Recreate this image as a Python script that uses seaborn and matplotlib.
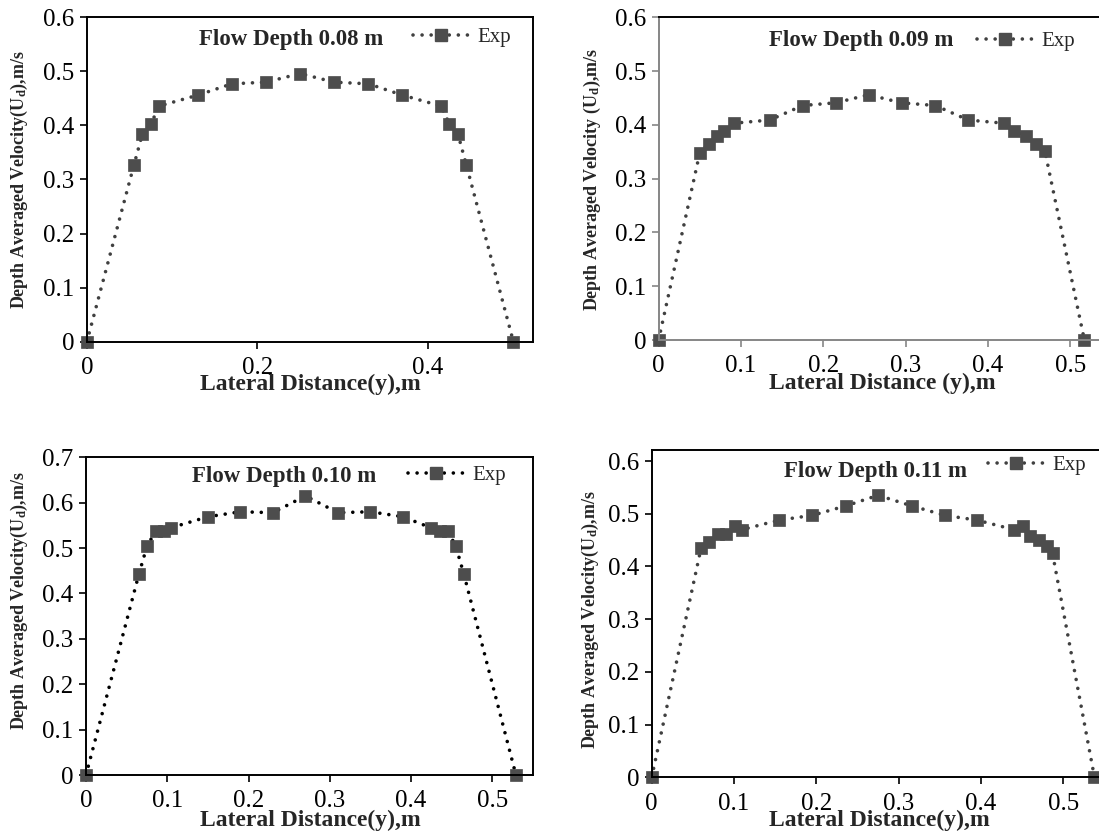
import numpy as np
import pandas as pd
import matplotlib
matplotlib.use("Agg")
import matplotlib.pyplot as plt
import seaborn as sns
from matplotlib.ticker import MultipleLocator, FuncFormatter
from matplotlib.lines import Line2D

# ---------------- data ----------------
y_008 = [0, 0.055, 0.065, 0.075, 0.085, 0.13, 0.17, 0.21, 0.25, 0.29, 0.33, 0.37,
         0.415, 0.425, 0.435, 0.445, 0.50]
u_008 = [0, 0.326, 0.384, 0.403, 0.436, 0.456, 0.477, 0.480, 0.496, 0.480, 0.477,
         0.456, 0.436, 0.403, 0.384, 0.326, 0]

y_009 = [0, 0.050, 0.061, 0.071, 0.080, 0.091, 0.135, 0.175, 0.215, 0.255, 0.295,
         0.336, 0.376, 0.420, 0.431, 0.446, 0.458, 0.469, 0.517]
u_009 = [0, 0.348, 0.365, 0.379, 0.389, 0.403, 0.409, 0.436, 0.441, 0.456, 0.441,
         0.436, 0.409, 0.403, 0.389, 0.379, 0.365, 0.352, 0]

y_010 = [0, 0.065, 0.075, 0.086, 0.096, 0.105, 0.15, 0.19, 0.23, 0.27, 0.31, 0.35,
         0.39, 0.424, 0.435, 0.445, 0.455, 0.465, 0.529]
u_010 = [0, 0.442, 0.504, 0.538, 0.538, 0.545, 0.569, 0.580, 0.578, 0.615, 0.578,
         0.580, 0.569, 0.545, 0.538, 0.538, 0.504, 0.442, 0]

y_011 = [0, 0.060, 0.070, 0.080, 0.090, 0.101, 0.110, 0.155, 0.195, 0.236, 0.275,
         0.316, 0.356, 0.395, 0.440, 0.451, 0.460, 0.470, 0.480, 0.487, 0.538]
u_011 = [0, 0.435, 0.446, 0.461, 0.462, 0.476, 0.470, 0.488, 0.497, 0.515, 0.535,
         0.515, 0.497, 0.488, 0.470, 0.476, 0.458, 0.451, 0.438, 0.425, 0]

titles = ["Flow Depth 0.08 m", "Flow Depth 0.09 m", "Flow Depth 0.10 m", "Flow Depth 0.11 m"]
ylabels = [r"Depth Averaged Velocity(U$_\mathbf{d}$),m/s",
           r"Depth Averaged Velocity (U$_\mathbf{d}$),m/s",
           r"Depth Averaged Velocity(U$_\mathbf{d}$),m/s",
           r"Depth Averaged Velocity(U$_\mathbf{d}$),m/s"]
xlabels = ["Lateral Distance(y),m", "Lateral Distance (y),m",
           "Lateral Distance(y),m", "Lateral Distance(y),m"]
legend_label = "Exp"

# ---------------- style ----------------
sns.set_theme(style="white")
plt.rcParams["font.family"] = ["Liberation Serif", "DejaVu Serif"]
plt.rcParams["mathtext.fontset"] = "custom"
plt.rcParams["mathtext.rm"] = "Liberation Serif"
plt.rcParams["mathtext.bf"] = "Liberation Serif:bold"
plt.rcParams["mathtext.it"] = "Liberation Serif:italic"

W, H = 1099, 838
fig = plt.figure(figsize=(W / 100, H / 100), dpi=100)
fig.patch.set_facecolor("white")

# panel layout in pixels: left, right, top, bottom
layout = [
    dict(l=86.9, r=533.0, t=17.3, b=341.7, xmax=0.523, ymax=0.6, xstep=0.2,
         title=(291.6, 39.3), leg=(413, 37.5), ylab=(19.3, 179.5), xlab=(310, 384),
         line="#404040", spine_lr="black", spine_b="black"),
    dict(l=658.6, r=658.6 + 0.56 * 823.5, t=17.3, b=340.0, xmax=0.56, ymax=0.6, xstep=0.1,
         title=(860.8, 40.7), leg=(977, 41.7), ylab=(592, 179), xlab=(882.7, 383),
         line="#404040", spine_lr="#868686", spine_b="#868686"),
    dict(l=86.0, r=533.0, t=457.3, b=775.0, xmax=0.55, ymax=0.7, xstep=0.1,
         title=(284.6, 476), leg=(408, 475), ylab=(19, 601), xlab=(310, 820),
         line="#000000", spine_lr="black", spine_b="black"),
    dict(l=651.7, r=651.7 + 0.56 * 823.0, t=450.0, b=777.3, xmax=0.56, ymax=0.621, xstep=0.1,
         title=(875.7, 471.7), leg=(988, 465), ylab=(590, 620), xlab=(879, 820),
         line="#404040", spine_lr="black", spine_b="black"),
]

series = [(y_008, u_008), (y_009, u_009), (y_010, u_010), (y_011, u_011)]
marker_color = "#4d4d4d"
lw = 2.6
dot_style = (0, (0.01, 2.5))


def fmt(v, pos):
    if abs(v) < 1e-9:
        return "0"
    return f"{v:.1f}"


for i, (lay, (xs, us)) in enumerate(zip(layout, series)):
    l, r, t, b = lay["l"], lay["r"], lay["t"], lay["b"]
    ax = fig.add_axes([l / W, 1 - b / H, (r - l) / W, (b - t) / H])
    ax.set_facecolor("white")
    df = pd.DataFrame({"y": xs, "U": us})
    sns.lineplot(data=df, x="y", y="U", ax=ax, estimator=None, sort=False,
                 color=lay["line"], linewidth=lw, linestyle=dot_style,
                 dash_capstyle="round", marker="s", markersize=8.6,
                 markerfacecolor=marker_color, markeredgecolor=marker_color,
                 markeredgewidth=0.5, clip_on=False, label=legend_label, legend=False)
    ax.set_xlim(0, lay["xmax"])
    ax.set_ylim(0, lay["ymax"])
    ax.xaxis.set_major_locator(MultipleLocator(lay["xstep"]))
    ax.yaxis.set_major_locator(MultipleLocator(0.1))
    ax.xaxis.set_major_formatter(FuncFormatter(fmt))
    ax.yaxis.set_major_formatter(FuncFormatter(fmt))
    ax.tick_params(axis="both", which="major", direction="out", length=5, width=1.2,
                   labelsize=18, colors="black", bottom=True, left=True)
    ax.tick_params(axis="x", pad=6, color=lay["spine_b"])
    ax.tick_params(axis="y", pad=4, color=lay["spine_lr"])
    for side in ["top", "right"]:
        ax.spines[side].set_color("black")
        ax.spines[side].set_linewidth(1.4)
    ax.spines["left"].set_color(lay["spine_lr"])
    ax.spines["bottom"].set_color(lay["spine_b"])
    ax.spines["left"].set_linewidth(1.4)
    ax.spines["bottom"].set_linewidth(1.4)
    for sp in ax.spines.values():
        sp.set_visible(True)

    def to_ax(px, py):
        return (px - l) / (r - l), (b - py) / (b - t)

    ax.set_xlabel(xlabels[i], fontsize=17, fontweight="bold", va="center", ha="center")
    ax.xaxis.set_label_coords(*to_ax(*lay["xlab"]))
    ax.set_ylabel(ylabels[i], fontsize=13, fontweight="bold", va="center", ha="center")
    ax.yaxis.set_label_coords(*to_ax(*lay["ylab"]))

    tx, ty = to_ax(*lay["title"])
    ax.text(tx, ty, titles[i], transform=ax.transAxes, fontsize=16.5, fontweight="bold",
            ha="center", va="center")

    handle = Line2D([], [], color=lay["line"], linewidth=lw, linestyle=dot_style,
                    dash_capstyle="round", marker="s", markersize=8.6,
                    markerfacecolor=marker_color, markeredgecolor=marker_color)
    lx, ly = lay["leg"]
    ax.legend([handle], [legend_label], loc="center left",
              bbox_to_anchor=(lx / W, 1 - ly / H), bbox_transform=fig.transFigure,
              frameon=False, fontsize=15, handlelength=2.7, handletextpad=0.4,
              borderpad=0, borderaxespad=0, numpoints=1)

fig.savefig("out.png", dpi=100, facecolor="white")
